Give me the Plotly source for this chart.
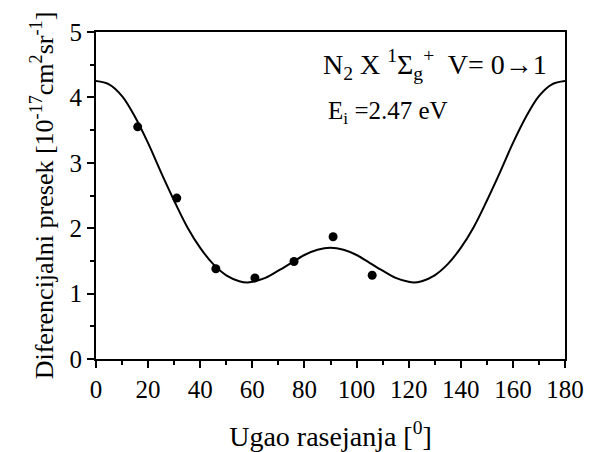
import plotly.graph_objects as go

# measured points
meas_x = [16, 31, 46, 61, 76, 91, 106]
meas_y = [3.55, 2.46, 1.38, 1.24, 1.49, 1.87, 1.28]

# fitted curve
curve_x = [0, 5, 10, 15, 20, 25, 30, 35, 40, 45, 50, 55, 58, 60, 65, 70, 75, 80, 85, 90,
           95, 100, 105, 110, 115, 120, 122, 125, 130, 135, 140, 145, 150, 155, 160, 165, 170, 175, 180]
curve_y = [4.25, 4.20, 4.02, 3.70, 3.30, 2.85, 2.42, 2.02, 1.70, 1.45, 1.28, 1.19, 1.17, 1.18, 1.24, 1.35, 1.47, 1.59, 1.67, 1.70,
           1.67, 1.59, 1.47, 1.35, 1.24, 1.18, 1.17, 1.19, 1.28, 1.45, 1.70, 2.02, 2.42, 2.85, 3.30, 3.70, 4.02, 4.20, 4.25]

x_ticks = [0, 20, 40, 60, 80, 100, 120, 140, 160, 180]
y_ticks = [0, 1, 2, 3, 4, 5]

font = "Liberation Serif, Times New Roman, serif"

fig = go.Figure()
fig.add_trace(go.Scatter(x=curve_x, y=curve_y, mode="lines", line=dict(color="black", width=2, shape="spline"),
                         showlegend=False, hoverinfo="skip"))
fig.add_trace(go.Scatter(x=meas_x, y=meas_y, mode="markers", marker=dict(color="black", size=9),
                         showlegend=False))

fig.update_layout(
    width=589, height=452,
    margin=dict(l=96, r=24, t=32, b=93),
    paper_bgcolor="white", plot_bgcolor="white",
    font=dict(family=font, color="black", size=24),
    xaxis=dict(range=[0, 180], tickvals=x_ticks, ticks="outside", ticklen=7, tickwidth=2, tickcolor="black",
               showline=True, linecolor="black", linewidth=2, mirror=True, showgrid=False, zeroline=False,
               automargin=False,
               minor=dict(dtick=10, tick0=0, ticks="outside", ticklen=4, tickwidth=2, tickcolor="black"),
               tickfont=dict(size=25, family=font),
               title=dict(text="Ugao rasejanja [<sup>0</sup>]", font=dict(size=28, family=font), standoff=24)),
    yaxis=dict(range=[0, 5], tickvals=y_ticks, ticks="outside", ticklen=7, tickwidth=2, tickcolor="black",
               showline=True, linecolor="black", linewidth=2, mirror=True, showgrid=False, zeroline=False,
               automargin=False,
               minor=dict(dtick=0.5, tick0=0, ticks="outside", ticklen=4, tickwidth=2, tickcolor="black"),
               tickfont=dict(size=25, family=font),
               title=dict(text="Diferencijalni presek [10<sup>-17</sup>cm<sup>2</sup>sr<sup>-1</sup>]",
                          font=dict(size=26, family=font), standoff=8)),
    annotations=[
        dict(xref="paper", yref="paper", x=0.48, y=0.90, xanchor="left", yanchor="middle", showarrow=False,
             text="N<sub>2</sub> X <sup>1</sup>Σ<sub>g</sub><sup>+</sup>  V= 0<b>→</b>1",
             font=dict(size=28, family=font)),
        dict(xref="paper", yref="paper", x=0.49, y=0.755, xanchor="left", yanchor="middle", showarrow=False,
             text="E<sub>i</sub> =2.47 eV", font=dict(size=25, family=font)),
    ],
)

fig.write_html("out.html")
